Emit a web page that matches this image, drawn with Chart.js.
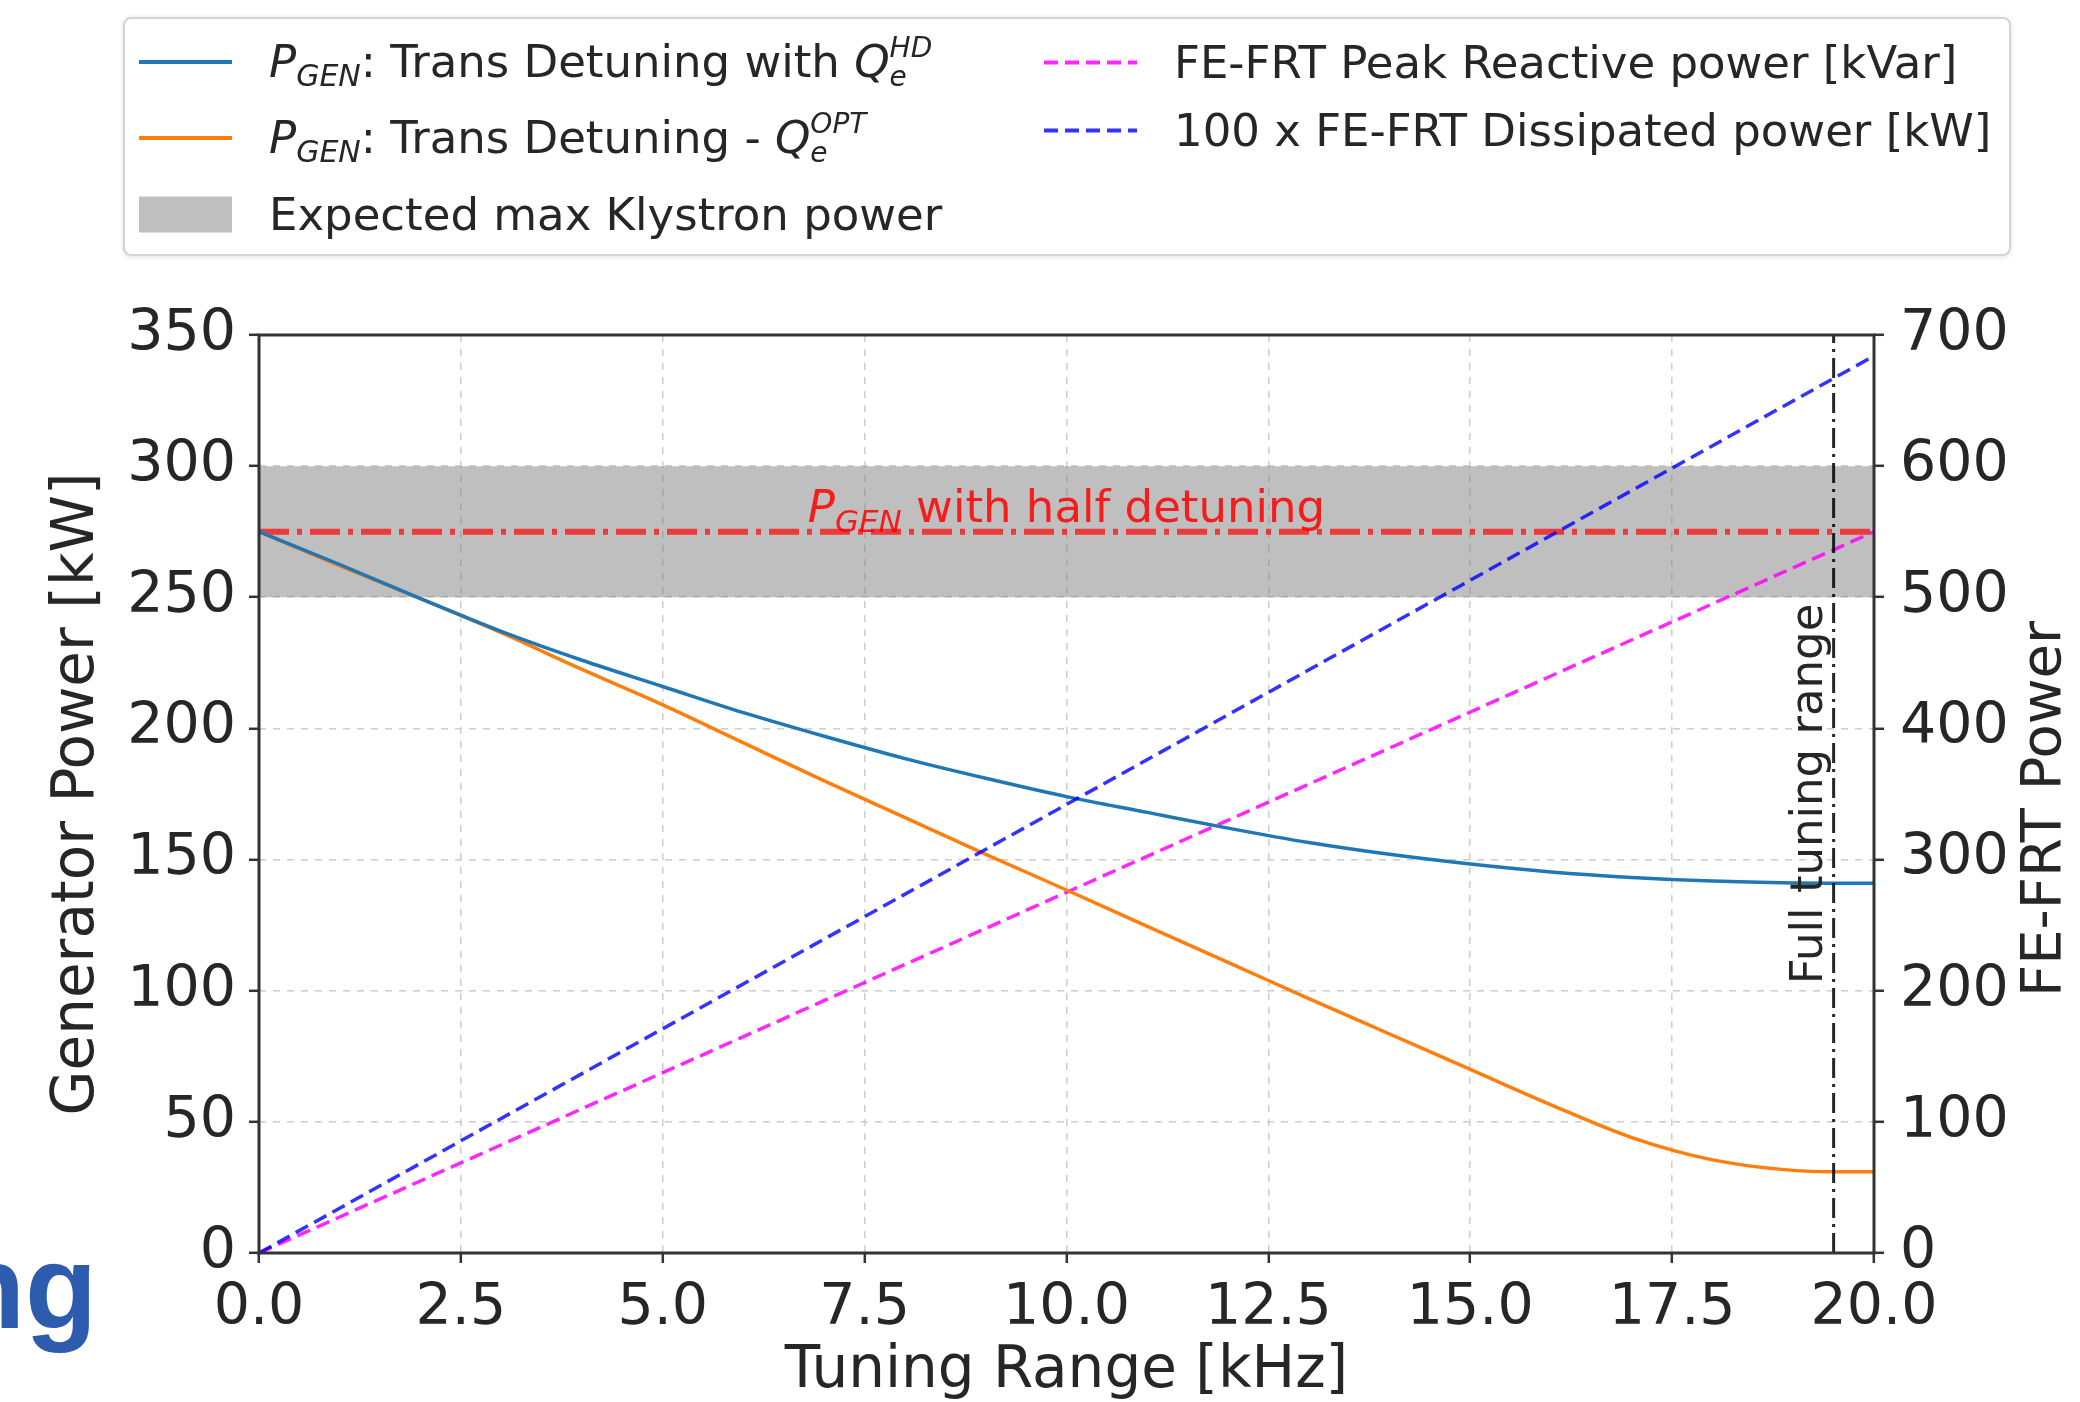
<!DOCTYPE html>
<html>
<head>
<meta charset="utf-8">
<script src="https://cdn.jsdelivr.net/npm/chart.js@4.4.1/dist/chart.umd.min.js"></script>
<style>
  html, body { margin: 0; padding: 0; background: #fff; }
  #wrap { position: relative; width: 2080px; height: 1402px; overflow: hidden; font-family: "DejaVu Sans", sans-serif; }
  #plot { position: absolute; left: 0; top: 0; }
  #legend { position: absolute; left: 123px; top: 17px; width: 1888px; height: 239px; box-sizing: border-box;
            border: 2px solid #d4d4d4; border-radius: 8px; background: #fff; box-shadow: 0 1px 5px rgba(0,0,0,0.12); }
  .item { position: absolute; display: flex; align-items: center; transform: translateY(-50%);
          font-size: 45px; color: #262626; white-space: nowrap; }
  .handle { width: 93px; margin-right: 37px; flex: none; }
  .sub { font-size: 30px; font-style: italic; position: relative; top: 9px; }
  .ss { display: inline-flex; flex-direction: column; font-size: 28px; line-height: 29px; vertical-align: 20px; font-style: italic; }
  #ng { position: absolute; left: -47px; top: 1228px; font: bold 118px "Liberation Sans", Arial, sans-serif;
        line-height: 118px; color: #2d5bae; }
</style>
</head>
<body>
<div id="wrap">
  <canvas id="plot" width="2080" height="1402"></canvas>
  <div id="legend"></div>
  <div id="ng">ng</div>
</div>
<script>
// tuning range [kHz] and generator power [kW]
const freqKHz = [0, 1, 2, 3, 4, 5, 6, 7, 8, 9, 10, 11, 12, 13, 14, 15, 16, 17, 18, 19, 19.5, 20];
const pGenHD  = [275, 262.5, 249.5, 237, 226, 216, 206, 197, 188.5, 181, 174, 168, 162, 156.5, 152, 148.3, 145.3, 143.2, 141.8, 141.1, 141, 141];
const pGenOpt = [275, 262, 249.5, 236.5, 222.5, 209, 194.5, 180, 166, 152, 138.4, 124.5, 110.8, 97, 83.5, 70, 56.5, 44, 35.5, 31.5, 31, 31];

// FE-FRT power (right axis)
const frtX = [0, 20];
const reactiveKVar = [0, 550];
const dissipated100 = [0, 684];

// reference levels
const klystronBand = [250, 300];
const halfDetuningKW = 275;
const fullRangeKHz = 19.5;

const xTicks = { min: 0, max: 20, step: 2.5 };
const yLeft = { min: 0, max: 350, step: 50 };
const yRight = { min: 0, max: 700, step: 100 };

const BLUE = '#1f77b4', ORANGE = '#ff7f0e', MAGENTA = 'rgba(255,0,255,0.85)', DBLUE = 'rgba(0,0,255,0.8)';
const BAND = 'rgba(128,128,128,0.5)';
const FONT = '"DejaVu Sans", sans-serif';

const pts = (xs, ys) => xs.map((x, i) => ({ x: x, y: ys[i] }));

const datasets = [
  { label: 'PGEN HD', data: pts(freqKHz, pGenHD), borderColor: BLUE, borderWidth: 3.5, yAxisID: 'y', cubicInterpolationMode: 'monotone', order: 2 },
  { label: 'PGEN OPT', data: pts(freqKHz, pGenOpt), borderColor: ORANGE, borderWidth: 3.5, yAxisID: 'y', cubicInterpolationMode: 'monotone', order: 3 },
  { label: 'reactive', data: pts(frtX, reactiveKVar), borderColor: MAGENTA, borderWidth: 3.5, borderDash: [14, 7], yAxisID: 'y2', order: 4 },
  { label: 'dissipated', data: pts(frtX, dissipated100), borderColor: DBLUE, borderWidth: 3.5, borderDash: [14, 7], yAxisID: 'y2', order: 1 },
  { label: 'half', data: pts([0, 20], [halfDetuningKW, halfDetuningKW]), borderColor: 'rgba(255,0,0,0.7)', borderWidth: 6, borderDash: [30, 8, 5, 8], yAxisID: 'y', order: 5 },
  { label: 'full', data: pts([fullRangeKHz, fullRangeKHz], [0, 350]), borderColor: 'rgba(0,0,0,0.85)', borderWidth: 3, borderDash: [20, 6, 3, 6], yAxisID: 'y', order: 0 },
  { label: 'band', data: pts([0, 20], [klystronBand[1], klystronBand[1]]), borderWidth: 0, borderColor: 'rgba(0,0,0,0)',
    backgroundColor: BAND, fill: { value: klystronBand[0] }, yAxisID: 'y', order: 9 }
];

const tickFont = { family: FONT, size: 57 };
const tickGrid = { color: '#cfcfcf', lineWidth: 1.6, tickColor: '#333', tickWidth: 2.5, tickLength: 10, tickBorderDash: [] };

const overlay = {
  id: 'overlay',
  afterDatasetsDraw(chart) {
    const { ctx, chartArea: a, scales } = chart;
    const x = scales.x, y = scales.y;
    ctx.save();
    // red label
    const cx = x.getPixelForValue(10), by = y.getPixelForValue(halfDetuningKW) - 10;
    ctx.fillStyle = 'rgba(255,0,0,0.85)';
    ctx.textBaseline = 'alphabetic';
    ctx.textAlign = 'left';
    const fBig = 'italic 45px ' + FONT, fSub = 'italic 31px ' + FONT, fTxt = '45px ' + FONT;
    ctx.font = fBig; const wP = ctx.measureText('P').width;
    ctx.font = fSub; const wG = ctx.measureText('GEN').width;
    ctx.font = fTxt; const wT = ctx.measureText(' with half detuning').width;
    let sx = cx - (wP + wG + wT) / 2;
    ctx.font = fBig; ctx.fillText('P', sx, by); sx += wP;
    ctx.font = fSub; ctx.fillText('GEN', sx, by + 10); sx += wG;
    ctx.font = fTxt; ctx.fillText(' with half detuning', sx, by);
    // vertical label
    ctx.save();
    ctx.translate(x.getPixelForValue(fullRangeKHz) - 12, y.getPixelForValue(175));
    ctx.rotate(-Math.PI / 2);
    ctx.textAlign = 'center';
    ctx.fillStyle = '#262626';
    ctx.font = '45px ' + FONT;
    ctx.fillText('Full tuning range', 0, 0);
    ctx.restore();
    // right axis title
    ctx.save();
    ctx.translate(2060, (a.top + a.bottom) / 2 + 15);
    ctx.rotate(-Math.PI / 2);
    ctx.textAlign = 'center';
    ctx.fillStyle = '#262626';
    ctx.font = '56px ' + FONT;
    ctx.fillText('FE-FRT Power', 0, 0);
    ctx.restore();
    // frame
    ctx.strokeStyle = '#333';
    ctx.lineWidth = 3;
    ctx.strokeRect(a.left, a.top, a.right - a.left, a.bottom - a.top);
    ctx.restore();
  }
};

new Chart(document.getElementById('plot'), {
  type: 'line',
  data: { datasets: datasets },
  options: {
    responsive: false,
    animation: false,
    events: [],
    layout: { padding: { top: 335, left: 0, right: 0, bottom: 0 } },
    elements: { point: { radius: 0 }, line: { fill: false } },
    plugins: { legend: { display: false }, tooltip: { enabled: false } },
    scales: {
      x: {
        type: 'linear', min: xTicks.min, max: xTicks.max,
        ticks: { stepSize: xTicks.step, font: tickFont, color: '#262626', padding: 12, maxRotation: 0, autoSkip: false,
                 callback: v => v.toFixed(1) },
        grid: tickGrid,
        border: { display: false, dash: [7, 7] },
        title: { display: true, text: 'Tuning Range [kHz]', font: { family: FONT, size: 58, lineHeight: 1.0 }, color: '#262626', padding: { top: 0, bottom: 1 } },
        afterFit(s) { s.height = 149; s.paddingLeft = 0; s.paddingRight = 0; }
      },
      y: {
        type: 'linear', position: 'left', min: yLeft.min, max: yLeft.max,
        ticks: { stepSize: yLeft.step, font: tickFont, color: '#262626', padding: 13 },
        grid: tickGrid,
        border: { display: false, dash: [7, 7] },
        title: { display: true, text: 'Generator Power [kW]', font: { family: FONT, size: 58 }, color: '#262626', padding: { top: 43 } },
        afterFit(s) { s.width = 259; s.paddingTop = 0; s.paddingBottom = 0; }
      },
      y2: {
        type: 'linear', position: 'right', min: yRight.min, max: yRight.max,
        ticks: { stepSize: yRight.step, font: tickFont, color: '#262626', padding: 16 },
        grid: Object.assign({}, tickGrid, { drawOnChartArea: false }),
        border: { display: false },
        afterFit(s) { s.width = 206; s.paddingTop = 0; s.paddingBottom = 0; }
      }
    }
  },
  plugins: [overlay]
});

// legend (matplotlib style, two columns)
const Q = (sup) => '<i>Q</i><span class="ss"><span>' + sup + '</span><span>e</span></span>';
const PGEN = '<i>P</i><span class="sub">GEN</span>';
const legendEntries = [
  { left: 14, top: 43, html: PGEN + ': Trans Detuning with ' + Q('HD'), handle: 'height:4px;background:' + BLUE },
  { left: 14, top: 119, html: PGEN + ': Trans Detuning - ' + Q('OPT'), handle: 'height:4px;background:' + ORANGE },
  { left: 14, top: 195, html: 'Expected max Klystron power', handle: 'height:36px;background:' + BAND },
  { left: 919, top: 43, html: 'FE-FRT Peak Reactive power [kVar]', handle: 'height:4px;background:repeating-linear-gradient(90deg,' + MAGENTA + ' 0 14px, transparent 14px 21px)' },
  { left: 919, top: 111, html: '100 x FE-FRT Dissipated power [kW]', handle: 'height:4px;background:repeating-linear-gradient(90deg,' + DBLUE + ' 0 14px, transparent 14px 21px)' }
];
const legend = document.getElementById('legend');
legendEntries.forEach(e => {
  const d = document.createElement('div');
  d.className = 'item';
  d.style.left = e.left + 'px';
  d.style.top = e.top + 'px';
  d.innerHTML = '<span class="handle" style="' + e.handle + '"></span><span>' + e.html + '</span>';
  legend.appendChild(d);
});
</script>
</body>
</html>
